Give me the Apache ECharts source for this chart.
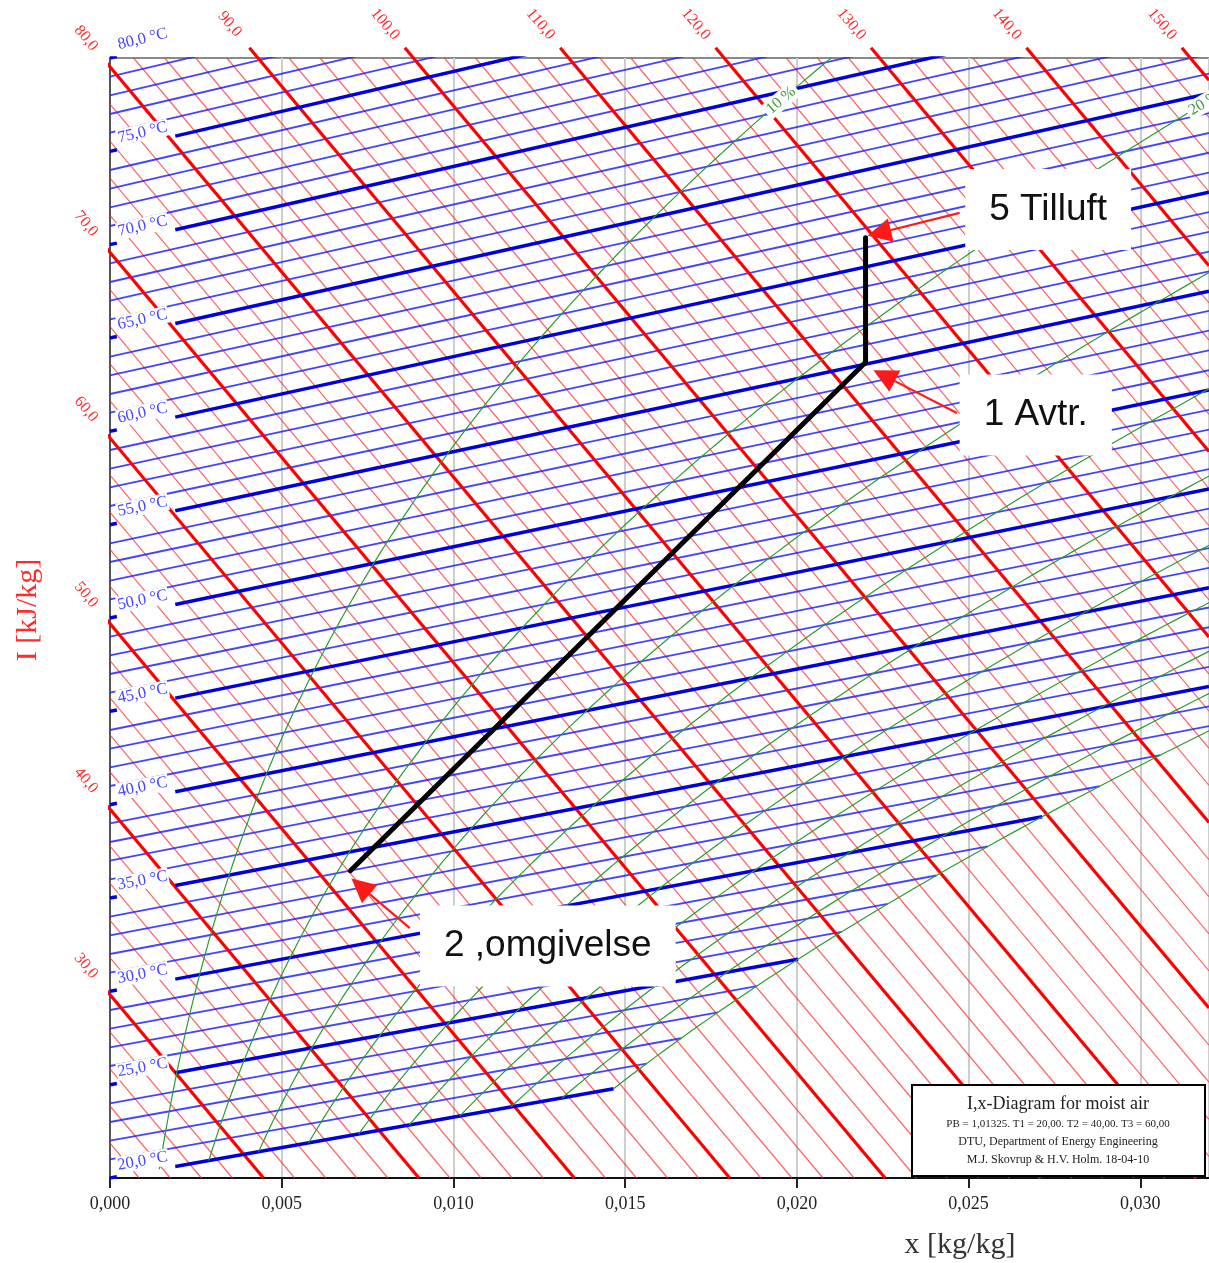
<!DOCTYPE html>
<html>
<head>
<meta charset="utf-8">
<script src="https://cdn.jsdelivr.net/npm/echarts@6/dist/echarts.min.js"></script>
<style>
  html, body { margin: 0; padding: 0; background: #fff; }
  #chart { width: 1209px; height: 1263px; }
</style>
</head>
<body>
<div id="chart"></div>
<script>
// ---- Process states: humidity ratio x [kg/kg] and dry-bulb temperature t [°C]
const stateNames = ['2 ,omgivelse', '1 Avtr.', '5 Tilluft'];
const stateX = [0.0070, 0.0220, 0.0220];
const stateT = [34.0, 55.1, 61.5];

// ---- Chart line families
const boldTemps = [20, 25, 30, 35, 40, 45, 50, 55, 60, 65, 70, 75, 80];          // °C, labelled isotherms
const boldEnthalpies = [30, 40, 50, 60, 70, 80, 90, 100, 110, 120, 130, 140, 150]; // kJ/kg, labelled
const rhLevels = [10, 20, 30, 40, 50, 60, 70, 80, 90, 100];                      // %
const xTicks = [0, 0.005, 0.010, 0.015, 0.020, 0.025, 0.030];

// ---- Physical constants and diagram skew (ordinate = I - SKEW * x)
const P_ATM = 101325;   // Pa
const SKEW = 2210;
const X_MAX = 0.032;
const Y_MIN = 1.006 * 20;
const Y_MAX = 1.006 * 80;

// ---- Layout
const GRID = { left: 110, top: 58, width: 1107, height: 1120 };
const PXX = GRID.width / X_MAX;
const PXY = GRID.height / (Y_MAX - Y_MIN);
const SERIF = '"Liberation Serif", "Times New Roman", serif';
const SANS = '"Liberation Sans", Arial, sans-serif';

// saturation pressure (Magnus), Pa
function psat(t) { return 610.94 * Math.exp(17.625 * t / (t + 243.04)); }
function xOf(t, phi) { const pv = phi * psat(t); return 0.622 * pv / (P_ATM - pv); }
function isoY(t, x) { return 1.006 * t + x * (2501 + 1.86 * t - SKEW); }
function deg(rad) { return rad * 180 / Math.PI; }

const series = [];
function addLine(points, lineStyle, z, clip) {
  series.push({
    type: 'line', data: points, symbol: 'none', silent: true,
    clip: clip !== false, z: z, lineStyle: lineStyle, animation: false
  });
}

// enthalpy line segment inside the frame, optionally extended past the upper-left edge
function enthalpySegment(h, ext) {
  let x0, y0;
  if (h <= Y_MAX) { x0 = -ext / SKEW; y0 = h + ext; }
  else { y0 = Y_MAX + ext; x0 = (h - y0) / SKEW; }
  let x1 = (h - Y_MIN) / SKEW, y1 = Y_MIN;
  if (x1 > X_MAX) { x1 = X_MAX; y1 = h - SKEW * X_MAX; }
  return [[x0, y0], [x1, y1]];
}

// thin enthalpy lines every 2 kJ/kg
for (let h = 22; h <= 150; h += 2) {
  if (boldEnthalpies.indexOf(h) >= 0) continue;
  addLine(enthalpySegment(h, 0), { color: 'rgba(255,50,50,0.75)', width: 1.2 }, 3, true);
}

// thin isotherms every 1 °C, ending on the saturation line
for (let t = 20; t <= 80; t += 1) {
  if (boldTemps.indexOf(t) >= 0) continue;
  const xe = Math.min(xOf(t, 1), X_MAX);
  addLine([[0, isoY(t, 0)], [xe, isoY(t, xe)]], { color: 'rgba(35,35,255,0.85)', width: 1.8 }, 4, true);
}

// bold enthalpy lines
boldEnthalpies.forEach(h => {
  addLine(enthalpySegment(h, 0.55), { color: '#ff0000', width: 3.2 }, 5, false);
});

// bold isotherms with their axis tick
boldTemps.forEach(t => {
  const xe = Math.min(xOf(t, 1), X_MAX);
  const xs = 0.0019;
  addLine([[0, isoY(t, 0)], [0.0002, isoY(t, 0.0002)]], { color: '#0000dd', width: 3.5 }, 6, true);
  addLine([[xs, isoY(t, xs)], [xe, isoY(t, xe)]], { color: '#0000dd', width: 3.5 }, 6, true);
});

// relative humidity curves
rhLevels.forEach(rh => {
  const phi = rh / 100;
  const pts = [];
  for (let t = 20; t <= 100.001; t += 0.25) {
    const x = xOf(t, phi), y = isoY(t, x);
    pts.push([x, y]);
    if (x > X_MAX || y > Y_MAX) break;
  }
  addLine(pts, { color: '#2e9a2e', width: 1.2 }, 7, true);
});

// process line 2 -> 1 -> 5
const statePts = stateX.map((x, i) => [x, isoY(stateT[i], x)]);
addLine(statePts, { color: '#000', width: 5, cap: 'round', join: 'round' }, 35, true);

// ---- Labels (opaque symbols so label boxes mask the lines below)
const labelItem = { opacity: 1, color: 'transparent' };

// isotherm labels
const LX = 0.00095;
series.push({
  type: 'scatter', z: 30, silent: true, clip: false, symbolSize: 0, animation: false,
  itemStyle: labelItem,
  data: boldTemps.map(t => ({
    name: t.toFixed(1).replace('.', ',') + ' °C',
    value: [LX, isoY(t, LX) + 0.6],
    label: { rotate: deg(Math.atan((2501 + 1.86 * t - SKEW) * PXY / PXX)) }
  })),
  label: {
    show: true, position: 'inside', formatter: p => p.name,
    color: '#4646ff', fontFamily: SERIF, fontSize: 16.5,
    backgroundColor: '#fff', padding: [0, 1]
  }
});

// enthalpy labels
const hAngle = -deg(Math.atan(SKEW * PXY / PXX));
series.push({
  type: 'scatter', z: 30, silent: true, clip: false, symbolSize: 0, animation: false,
  itemStyle: labelItem,
  data: boldEnthalpies.map(h => {
    const pos = h <= Y_MAX ? [-0.0007, h + SKEW * 0.0007] : [(h - 82.3) / SKEW, 82.3];
    return { name: h.toFixed(1).replace('.', ','), value: pos };
  }),
  label: {
    show: true, position: 'inside', formatter: p => p.name, rotate: hAngle,
    color: '#ff2a2a', fontFamily: SERIF, fontSize: 16
  }
});

// relative humidity labels near the top of the frame
const RH_LABEL_Y = 77.5;
const rhLabelData = [];
rhLevels.forEach(rh => {
  const phi = rh / 100;
  let lo = 20, hi = 100;
  for (let k = 0; k < 60; k++) {
    const mid = (lo + hi) / 2;
    if (isoY(mid, xOf(mid, phi)) < RH_LABEL_Y) lo = mid; else hi = mid;
  }
  const t = lo, x = xOf(t, phi);
  if (x > X_MAX) return;
  const t2 = t + 0.2, x2 = xOf(t2, phi);
  const ang = deg(Math.atan2((isoY(t2, x2) - isoY(t, x)) * PXY, (x2 - x) * PXX));
  rhLabelData.push({ name: rh + ' %', value: [x, isoY(t, x)], label: { rotate: ang } });
});
series.push({
  type: 'scatter', z: 30, silent: true, clip: false, symbolSize: 0, animation: false,
  itemStyle: labelItem,
  data: rhLabelData,
  label: {
    show: true, position: 'inside', align: 'left', formatter: p => p.name,
    color: '#3c9a3c', fontFamily: SERIF, fontSize: 16,
    backgroundColor: '#fff', padding: [1, 3]
  }
});

// callout boxes for the process states
const calloutCenter = [[0.012748, 32.62], [0.026955, 61.24], [0.027317, 72.315]];
const calloutTail = [[0.00873, 33.59], [0.02466, 61.35], [0.02474, 72.13]];
const tipOffsetPx = [[1, 8], [8, 8], [2, -2]];
series.push({
  type: 'scatter', z: 40, silent: true, clip: false, symbolSize: 0, animation: false,
  itemStyle: labelItem,
  data: stateNames.map((n, i) => ({ name: n, value: calloutCenter[i] })),
  label: {
    show: true, position: 'inside', formatter: p => p.name,
    color: '#111', fontFamily: SANS, fontSize: 37,
    backgroundColor: '#fff', padding: [22, 24]
  }
});

// arrows from the callouts to the states
const HEAD = 24;
series.push({
  type: 'lines', coordinateSystem: 'cartesian2d', z: 45, silent: true, animation: false,
  symbol: ['none', 'triangle'], symbolSize: HEAD,
  lineStyle: { color: '#ff1a1a', width: 2.2, opacity: 1, curveness: 0 },
  itemStyle: { color: '#ff1a1a' },
  data: statePts.map((p, i) => {
    const tip = [p[0] + tipOffsetPx[i][0] / PXX, p[1] - tipOffsetPx[i][1] / PXY];
    const tail = calloutTail[i];
    const dxp = (tip[0] - tail[0]) * PXX, dyp = (tip[1] - tail[1]) * PXY;
    const len = Math.hypot(dxp, dyp);
    const back = HEAD / 2;
    const end = [tip[0] - dxp / len * back / PXX, tip[1] - dyp / len * back / PXY];
    return { coords: [tail, end] };
  })
});

function centeredText(text, x, y, font, fill, extra) {
  return Object.assign({
    type: 'text', z: 200, zlevel: 0, x: x, y: y,
    style: { text: text, font: font, fill: fill,
             align: 'center', verticalAlign: 'middle', textAlign: 'center', textVerticalAlign: 'middle' }
  }, extra || {});
}

const chart = echarts.init(document.getElementById('chart'), null, { renderer: 'canvas' });
chart.setOption({
  animation: false,
  backgroundColor: '#fff',
  grid: {
    left: GRID.left, top: GRID.top, right: 1209 - GRID.left - GRID.width,
    bottom: 1263 - GRID.top - GRID.height,
    show: true, borderColor: '#8a8a8a', borderWidth: 2, backgroundColor: '#fff'
  },
  xAxis: {
    type: 'value', min: 0, max: X_MAX, interval: 0.005,
    axisLine: { show: true, onZero: false, lineStyle: { color: '#111', width: 2 } },
    axisTick: { show: true, length: 10, lineStyle: { color: '#222', width: 2 } },
    axisLabel: {
      show: true, margin: 17, color: '#222', fontFamily: SERIF, fontSize: 18,
      showMaxLabel: false,
      formatter: v => (xTicks.some(t => Math.abs(t - v) < 1e-9) ? v.toFixed(3).replace('.', ',') : '')
    },
    splitLine: { show: true, lineStyle: { color: '#cdcdcd', width: 2 } }
  },
  yAxis: {
    type: 'value', min: Y_MIN, max: Y_MAX,
    axisLine: { show: true, onZero: false, lineStyle: { color: '#555', width: 2 } },
    axisTick: { show: false }, axisLabel: { show: false }, splitLine: { show: false }
  },
  series: series,
  graphic: [
    centeredText('x [kg/kg]', 960, 1245, '30px ' + SERIF, '#333'),
    centeredText('I [kJ/kg]', 28, 610, '30px ' + SERIF, '#ff2a2a', { rotation: Math.PI / 2 }),
    { type: 'rect', z: 200, shape: { x: 912, y: 1085, width: 293, height: 91 },
      style: { fill: '#fff', stroke: '#000', lineWidth: 2 } },
    centeredText('I,x-Diagram for moist air', 1058, 1104, '18px ' + SERIF, '#222', { z: 201 }),
    centeredText('PB = 1,01325. T1 = 20,00. T2 = 40,00. T3 = 60,00', 1058, 1124, '11px ' + SERIF, '#222', { z: 201 }),
    centeredText('DTU, Department of Energy Engineering', 1058, 1142, '12px ' + SERIF, '#222', { z: 201 }),
    centeredText('M.J. Skovrup & H.V. Holm. 18-04-10', 1058, 1160, '12px ' + SERIF, '#222', { z: 201 })
  ]
});
</script>
</body>
</html>
